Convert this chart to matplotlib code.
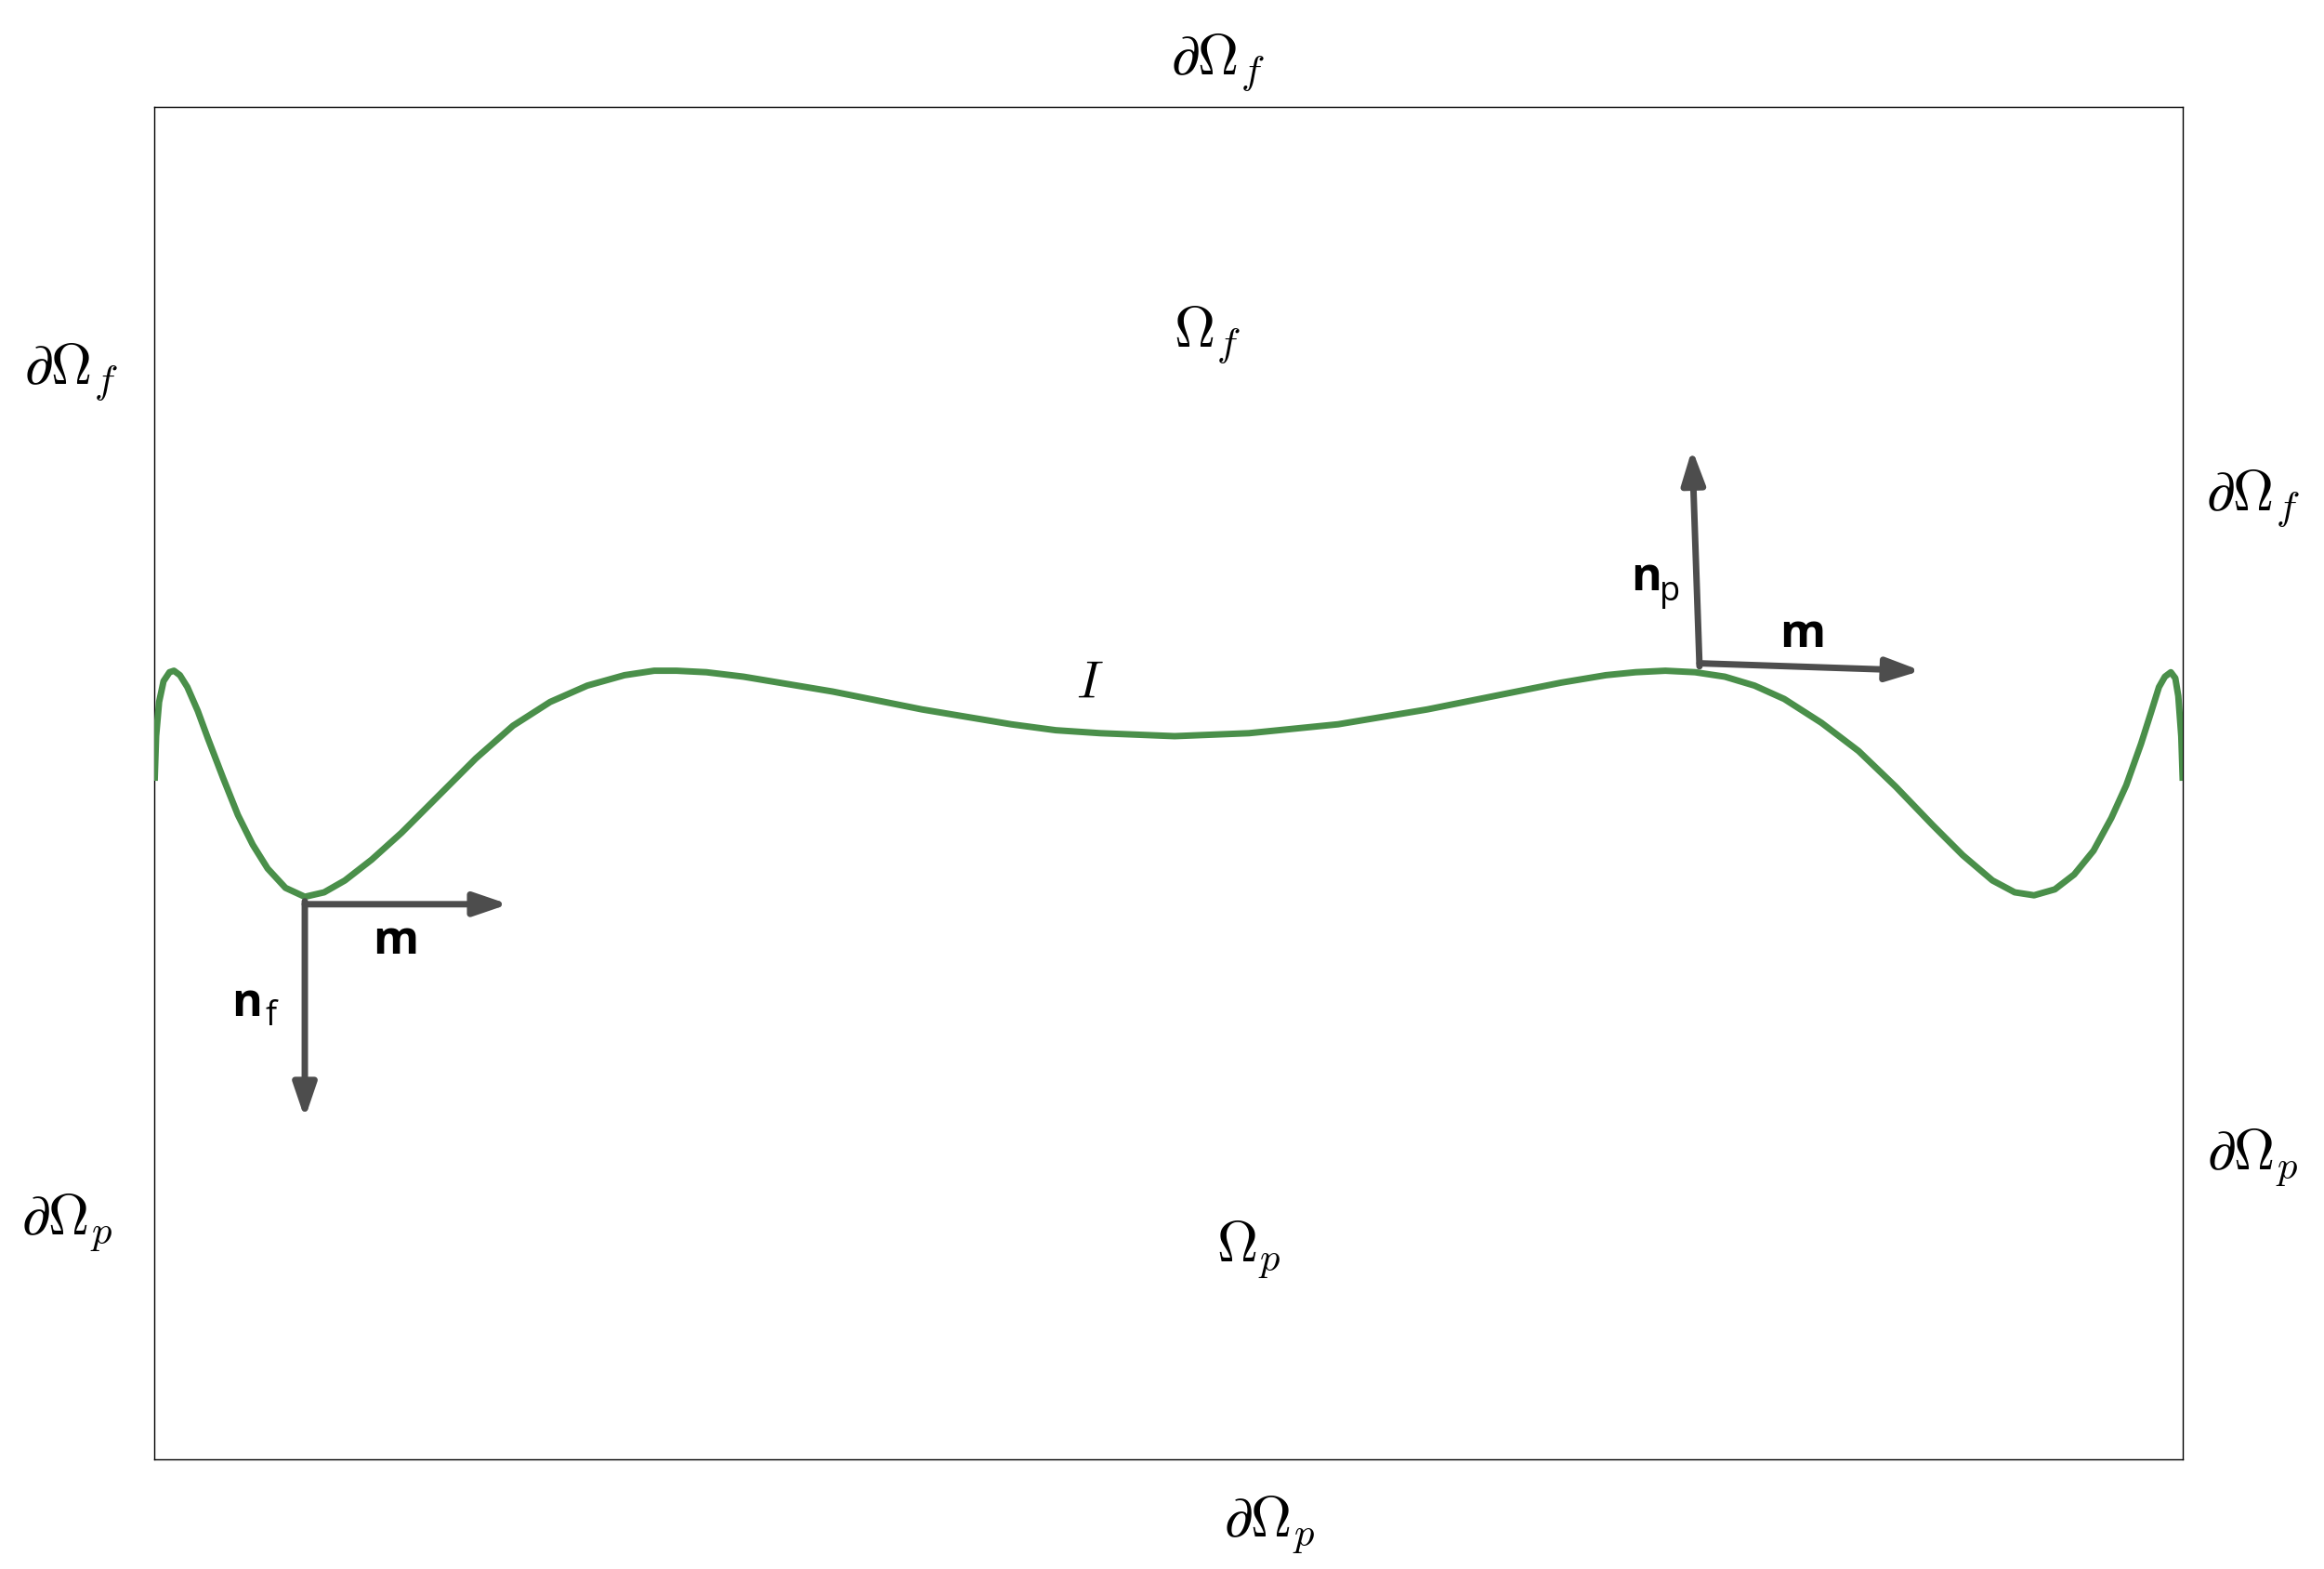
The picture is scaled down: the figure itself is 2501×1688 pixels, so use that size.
import numpy as np
import matplotlib.pyplot as plt

plt.rcParams['mathtext.fontset'] = 'cm'

# interface curve points (picture coordinates, y downward)
curve_x = [104, 105, 107, 110, 114, 117, 121, 126, 133, 140, 150, 160, 170, 180, 192, 205,
           218, 232, 250, 270, 295, 320, 345, 370, 395, 420, 440, 455, 475, 500, 530,
           560, 590, 620, 650, 680, 710, 740, 765, 790, 815, 840, 870, 900, 930, 960,
           990, 1020, 1050, 1080, 1100, 1120, 1140, 1160, 1180, 1200, 1225, 1250, 1275,
           1300, 1320, 1340, 1355, 1368, 1382, 1395, 1408, 1420, 1430, 1440, 1447,
           1452, 1456, 1460, 1463, 1465, 1467, 1468]
curve_y = [525, 495, 472, 458, 452, 451, 454, 462, 478, 497, 523, 548, 568, 584, 597, 603,
           600, 592, 578, 560, 535, 510, 488, 472, 461, 454, 451, 451, 452, 455, 460,
           465, 471, 477, 482, 487, 491, 493, 494, 495, 494, 493, 490, 487, 482, 477,
           471, 465, 459, 454, 452, 451, 452, 455, 461, 470, 486, 505, 529,
           555, 575, 592, 600, 602, 598, 588, 572, 550, 528, 500, 478,
           462, 455, 452, 456, 468, 495, 525]

labels_bnd = [(819, 42, r'$\partial\Omega_f$'), (48, 250, r'$\partial\Omega_f$'),
              (1515, 335, r'$\partial\Omega_f$'), (45, 822, r'$\partial\Omega_p$'),
              (1515, 778, r'$\partial\Omega_p$'), (854, 1025, r'$\partial\Omega_p$')]

fig = plt.figure(figsize=(25.01, 16.88), dpi=100)
ax = fig.add_axes([104 / 1563, 1 - 981 / 1055, (1468 - 104) / 1563, (981 - 72) / 1055])
ax.set_xlim(104, 1468)
ax.set_ylim(981, 72)
ax.set_xticks([])
ax.set_yticks([])
for s in ax.spines.values():
    s.set_linewidth(1.0)

ax.plot(curve_x, curve_y, color='#4a8f4a', lw=5, solid_joinstyle='round',
        solid_capstyle='butt', zorder=3)

akw = dict(arrowstyle='-|>,head_length=2.2,head_width=0.75', color='#4d4d4d', lw=5,
           shrinkA=0, shrinkB=0)
for (x0, y0, x1, y1) in [(205, 608, 342, 608), (205, 606, 205, 752),
                         (1143, 446, 1292, 451), (1143, 448, 1138, 302)]:
    ax.annotate('', xy=(x1, y1), xytext=(x0, y0), arrowprops=akw, zorder=4)

bold = dict(fontsize=36, fontweight='bold', family='Open Sans', ha='center', va='center')
ax.text(266, 633, 'm', **bold)
ax.text(1212, 427, 'm', **bold)
for x, y, sub in [(172, 678, 'f'), (1113, 392, 'p')]:
    ax.text(x - 6, y - 3, 'n', **bold)
    ax.text(x + 10, y + 6, sub, fontsize=26, family='Open Sans', ha='center', va='center')

ax.text(733, 460, r'$I$', fontsize=40, ha='center', va='center')
ax.text(812, 225, r'$\Omega_f$', fontsize=44, ha='center', va='center')
ax.text(840, 840, r'$\Omega_p$', fontsize=44, ha='center', va='center')
for x, y, t in labels_bnd:
    ax.text(x, y, t, fontsize=44, ha='center', va='center', clip_on=False)

fig.savefig('out.png', dpi=100)
